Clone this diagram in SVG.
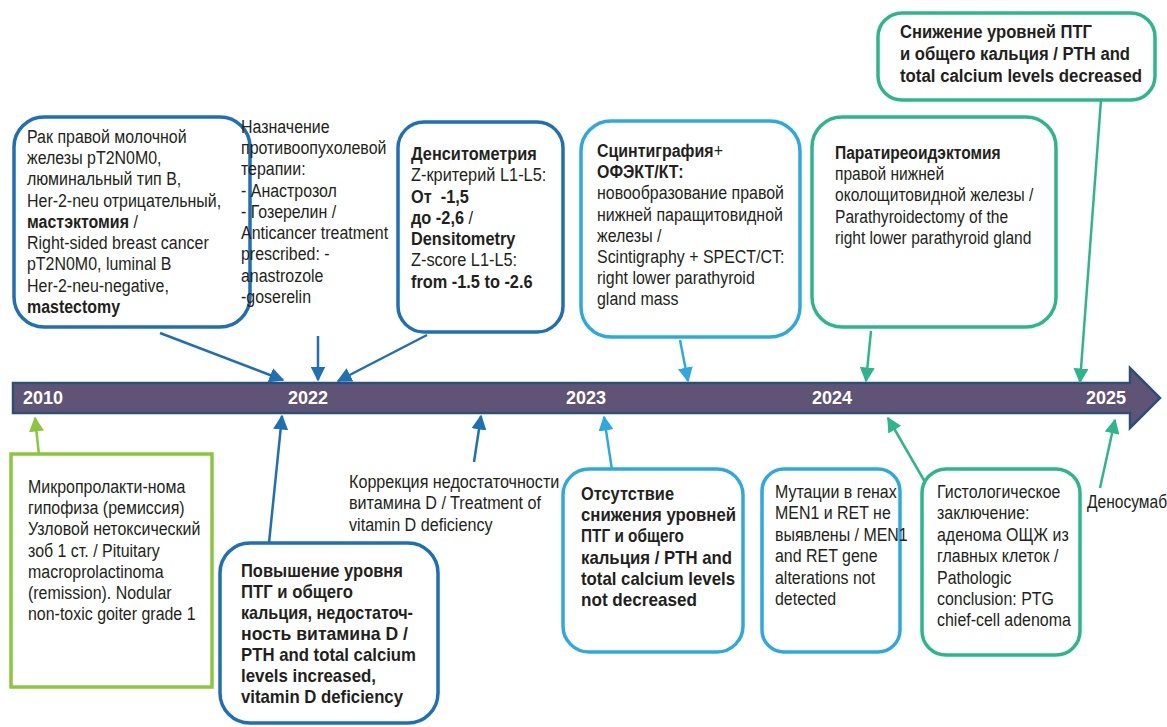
<svg xmlns="http://www.w3.org/2000/svg" width="1167" height="727" viewBox="0 0 1167 727">
<defs>
<style>
text{font-family:"Liberation Sans",Arial,sans-serif;font-size:19px;fill:#231f20;}
.b{font-weight:bold;}
.yr{fill:#fff;font-weight:bold;font-size:18px;}
.box{fill:#fff;stroke-width:3.5;}
.db{stroke:#1f6fb6;}
.lb{stroke:#2ea9df;}
.tl{stroke:#2db68c;}
.gr{stroke:#8cc63f;}
.c{fill:none;stroke-width:2.5;}
</style>
<marker id="mdb" viewBox="0 0 10 10" refX="9" refY="5" markerWidth="6" markerHeight="6" orient="auto" markerUnits="strokeWidth"><path d="M0,0L10,5L0,10z" fill="#1f6fb6"/></marker>
<marker id="mlb" viewBox="0 0 10 10" refX="9" refY="5" markerWidth="6" markerHeight="6" orient="auto" markerUnits="strokeWidth"><path d="M0,0L10,5L0,10z" fill="#2ea9df"/></marker>
<marker id="mtl" viewBox="0 0 10 10" refX="9" refY="5" markerWidth="6" markerHeight="6" orient="auto" markerUnits="strokeWidth"><path d="M0,0L10,5L0,10z" fill="#2db68c"/></marker>
<marker id="mgr" viewBox="0 0 10 10" refX="9" refY="5" markerWidth="6" markerHeight="6" orient="auto" markerUnits="strokeWidth"><path d="M0,0L10,5L0,10z" fill="#8cc63f"/></marker>
</defs>
<rect width="1167" height="727" fill="#fff"/>

<g id="timeline">
<path d="M13,383 H1130 V368 L1160,398 L1130,428 V413 H13 Z" fill="#5f5475" stroke="#2c4f7a" stroke-width="2.5"/>
<text class="yr" x="23" y="404">2010</text>
<text class="yr" x="288" y="404">2022</text>
<text class="yr" x="566" y="404">2023</text>
<text class="yr" x="812" y="404">2024</text>
<text class="yr" x="1086" y="404">2025</text>
</g>

<g id="connectors">
<line class="c" x1="160" y1="333" x2="283" y2="380" stroke="#1f6fb6" marker-end="url(#mdb)"/>
<line class="c" x1="318" y1="336" x2="318" y2="380" stroke="#1f6fb6" marker-end="url(#mdb)"/>
<line class="c" x1="427" y1="335" x2="338" y2="381" stroke="#1f6fb6" marker-end="url(#mdb)"/>
<line class="c" x1="680" y1="340" x2="688" y2="381" stroke="#2ea9df" marker-end="url(#mlb)"/>
<line class="c" x1="871" y1="331" x2="866" y2="381" stroke="#2db68c" marker-end="url(#mtl)"/>
<line class="c" x1="1101" y1="100" x2="1080" y2="382" stroke="#2db68c" marker-end="url(#mtl)"/>
<line class="c" x1="39" y1="455" x2="35" y2="418" stroke="#8cc63f" stroke-width="1.5" marker-end="url(#mgr)"/>
<line class="c" x1="269" y1="543" x2="282" y2="416" stroke="#1f6fb6" marker-end="url(#mdb)"/>
<line class="c" x1="474" y1="462" x2="481" y2="416" stroke="#1f6fb6" marker-end="url(#mdb)"/>
<line class="c" x1="612" y1="470" x2="604" y2="417" stroke="#2ea9df" marker-end="url(#mlb)"/>
<line class="c" x1="925" y1="482" x2="888" y2="418" stroke="#2db68c" marker-end="url(#mtl)"/>
<line class="c" x1="1100" y1="488" x2="1115" y2="420" stroke="#2db68c" marker-end="url(#mtl)"/>
</g>

<g id="n-breast">
<rect class="box db" x="14" y="117" width="236" height="210" rx="30"/>
<text transform="translate(27,0) scale(0.84,1)" x="0" y="143">Рак правой молочной<tspan x="0" dy="21.25">железы pT2N0M0,</tspan><tspan x="0" dy="21.25">люминальный тип В,</tspan><tspan x="0" dy="21.25">Her-2-neu отрицательный,</tspan><tspan x="0" dy="21.25" class="b">мастэктомия</tspan> /<tspan x="0" dy="21.25">Right-sided breast cancer</tspan><tspan x="0" dy="21.25">pT2N0M0, luminal B</tspan><tspan x="0" dy="21.25">Her-2-neu-negative,</tspan><tspan x="0" dy="21.25" class="b">mastectomy</tspan></text>
</g>

<g id="n-therapy">
<text transform="translate(241,0) scale(0.84,1)" x="0" y="133">Назначение<tspan x="0" dy="21.25">противоопухолевой</tspan><tspan x="0" dy="21.25">терапии:</tspan><tspan x="0" dy="21.25">- Анастрозол</tspan><tspan x="0" dy="21.25">- Гозерелин /</tspan><tspan x="0" dy="21.25">Anticancer treatment</tspan><tspan x="0" dy="21.25">prescribed: -</tspan><tspan x="0" dy="21.25">anastrozole</tspan><tspan x="0" dy="21.25">-goserelin</tspan></text>
</g>

<g id="n-densitometry">
<rect class="box db" x="398" y="122" width="165" height="210" rx="26"/>
<text transform="translate(411,0) scale(0.86,1)" x="0" y="160"><tspan class="b">Денситометрия</tspan><tspan x="0" dy="21.3">Z-критерий L1-L5:</tspan><tspan x="0" dy="21.3" class="b" xml:space="preserve">От  -1,5</tspan><tspan x="0" dy="21.3" class="b">до -2,6</tspan> /<tspan x="0" dy="21.3" class="b">Densitometry</tspan><tspan x="0" dy="21.3">Z-score L1-L5:</tspan><tspan x="0" dy="21.3" class="b">from -1.5 to -2.6</tspan></text>
</g>

<g id="n-scintigraphy">
<rect class="box lb" x="581" y="121" width="219" height="216" rx="30"/>
<text transform="translate(597,0) scale(0.84,1)" x="0" y="157"><tspan class="b">Сцинтиграфия</tspan>+<tspan x="0" dy="21.2" class="b">ОФЭКТ/КТ:</tspan><tspan x="0" dy="21.2">новообразование правой</tspan><tspan x="0" dy="21.2">нижней паращитовидной</tspan><tspan x="0" dy="21.2">железы /</tspan><tspan x="0" dy="21.2">Scintigraphy + SPECT/CT:</tspan><tspan x="0" dy="21.2">right lower parathyroid</tspan><tspan x="0" dy="21.2">gland mass</tspan></text>
</g>

<g id="n-parathyroidectomy">
<rect class="box tl" x="812" y="117" width="244" height="210" rx="30"/>
<text transform="translate(835,0) scale(0.82,1)" x="0" y="159"><tspan class="b">Паратиреоидэктомия</tspan><tspan x="0" dy="21.2">правой нижней</tspan><tspan x="0" dy="21.2">околощитовидной железы /</tspan><tspan x="0" dy="21.2">Parathyroidectomy of the</tspan><tspan x="0" dy="21.2">right lower parathyroid gland</tspan></text>
</g>

<g id="n-decreased">
<rect class="box tl" x="878" y="13" width="277" height="87" rx="24"/>
<text class="b" x="900" y="38" textLength="192" lengthAdjust="spacingAndGlyphs">Снижение уровней ПТГ</text>
<text class="b" x="900" y="60" style="font-size:18px" textLength="230" lengthAdjust="spacingAndGlyphs">и общего кальция / PTH and</text>
<text class="b" x="900" y="82" style="font-size:18px" textLength="242" lengthAdjust="spacingAndGlyphs">total calcium levels decreased</text>
</g>

<g id="n-prolactinoma">
<rect class="box gr" x="11" y="454" width="201" height="233"/>
<text transform="translate(28,0) scale(0.84,1)" x="0" y="493">Микропролакти-нома<tspan x="0" dy="21.2">гипофиза (ремиссия)</tspan><tspan x="0" dy="21.2">Узловой нетоксический</tspan><tspan x="0" dy="21.2">зоб 1 ст. / Pituitary</tspan><tspan x="0" dy="21.2">macroprolactinoma</tspan><tspan x="0" dy="21.2">(remission). Nodular</tspan><tspan x="0" dy="21.2">non-toxic goiter grade 1</tspan></text>
</g>

<g id="n-increased">
<rect class="box db" x="220" y="543" width="218" height="180" rx="30"/>
<text class="b" x="241" y="577" textLength="162" lengthAdjust="spacingAndGlyphs">Повышение уровня</text>
<text class="b" x="241" y="598" textLength="112" lengthAdjust="spacingAndGlyphs">ПТГ и общего</text>
<text class="b" x="241" y="619" textLength="172" lengthAdjust="spacingAndGlyphs">кальция, недостаточ-</text>
<text class="b" x="241" y="640" textLength="167" lengthAdjust="spacingAndGlyphs">ность витамина D /</text>
<text class="b" x="241" y="661" textLength="175" lengthAdjust="spacingAndGlyphs">PTH and total calcium</text>
<text class="b" x="241" y="682" textLength="135" lengthAdjust="spacingAndGlyphs">levels increased,</text>
<text class="b" x="241" y="703" textLength="162" lengthAdjust="spacingAndGlyphs">vitamin D deficiency</text>
</g>

<g id="n-vitd">
<text transform="translate(349,0) scale(0.85,1)" x="0" y="488">Коррекция недостаточности<tspan x="0" dy="21.5">витамина D / Treatment of</tspan><tspan x="0" dy="21.5">vitamin D deficiency</tspan></text>
</g>

<g id="n-notdecreased">
<rect class="box lb" x="563" y="469" width="180" height="183" rx="26"/>
<text class="b" x="581" y="500" textLength="93" lengthAdjust="spacingAndGlyphs">Отсутствие</text>
<text class="b" x="581" y="521" textLength="155" lengthAdjust="spacingAndGlyphs">снижения уровней</text>
<text class="b" x="581" y="542" textLength="103" lengthAdjust="spacingAndGlyphs">ПТГ и общего</text>
<text class="b" x="581" y="564" textLength="151" lengthAdjust="spacingAndGlyphs">кальция / PTH and</text>
<text class="b" x="581" y="585" textLength="154" lengthAdjust="spacingAndGlyphs">total calcium levels</text>
<text class="b" x="581" y="606" textLength="116" lengthAdjust="spacingAndGlyphs">not decreased</text>
</g>

<g id="n-mutations">
<rect class="box lb" x="762" y="469" width="138" height="183" rx="22"/>
<text transform="translate(775,0) scale(0.84,1)" x="0" y="498">Мутации в генах<tspan x="0" dy="21.4">MEN1 и RET не</tspan><tspan x="0" dy="21.4">выявлены / MEN1</tspan><tspan x="0" dy="21.4">and RET gene</tspan><tspan x="0" dy="21.4">alterations not</tspan><tspan x="0" dy="21.4">detected</tspan></text>
</g>

<g id="n-histology">
<rect class="box tl" x="922" y="469" width="158" height="186" rx="24"/>
<text transform="translate(937,0) scale(0.84,1)" x="0" y="498">Гистологическое<tspan x="0" dy="21.4">заключение:</tspan><tspan x="0" dy="21.4">аденома ОЩЖ из</tspan><tspan x="0" dy="21.4">главных клеток /</tspan><tspan x="0" dy="21.4">Pathologic</tspan><tspan x="0" dy="21.4">conclusion: PTG</tspan><tspan x="0" dy="21.4">chief-cell adenoma</tspan></text>
</g>

<g id="n-denosumab">
<text transform="translate(1087,0) scale(0.82,1)" x="0" y="508">Деносумаб</text>
</g>
</svg>
